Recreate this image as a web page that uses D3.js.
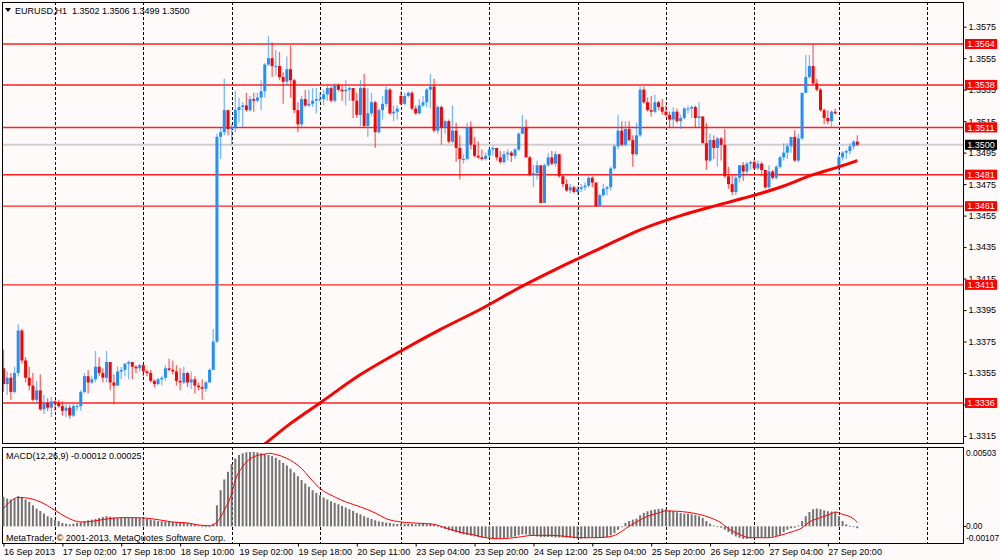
<!DOCTYPE html>
<html>
<head>
<meta charset="utf-8">
<script src="https://cdn.jsdelivr.net/npm/d3@7"></script>
<style>
  body { margin: 0; background: #fffafa; }
  svg { display: block; }
</style>
</head>
<body>
<div class="chart"></div>
<script>
// EURUSD H1 candles, 16 Sep 2013 10:00 .. 30 Sep 2013 05:00 (233 bars)
const opens = [
  1.3358,1.3348,1.3352,1.3343,1.3355,1.3382,1.3363,1.3352,1.3347,1.3338,
  1.3344,1.3332,1.3336,1.3333,1.3337,1.3336,1.3334,1.3331,1.3333,1.3328,
  1.3334,1.3334,1.3343,1.3353,1.3349,1.3351,1.3359,1.3355,1.3352,1.3362,
  1.3349,1.3347,1.3356,1.3357,1.3361,1.3362,1.3359,1.3358,1.3360,1.3356,
  1.3355,1.3350,1.3348,1.3351,1.3352,1.3358,1.3357,1.3356,1.3350,1.3349,
  1.3355,1.3349,1.3351,1.3347,1.3346,1.3345,1.3349,1.3357,1.3375,1.3505,
  1.3508,1.3522,1.3510,1.3511,1.3522,1.3524,1.3525,1.3522,1.3529,1.3528,
  1.3530,1.3534,1.3551,1.3555,1.3550,1.3550,1.3543,1.3540,1.3548,1.3541,
  1.3522,1.3513,1.3529,1.3525,1.3526,1.3528,1.3529,1.3529,1.3532,1.3536,
  1.3528,1.3538,1.3535,1.3534,1.3535,1.3536,1.3528,1.3519,1.3536,1.3512,
  1.3520,1.3527,1.3508,1.3522,1.3526,1.3535,1.3520,1.3521,1.3531,1.3526,
  1.3531,1.3533,1.3523,1.3520,1.3525,1.3527,1.3535,1.3537,1.3509,1.3524,
  1.3511,1.3515,1.3502,1.3509,1.3498,1.3491,1.3491,1.3511,1.3500,1.3493,
  1.3492,1.3491,1.3493,1.3497,1.3498,1.3492,1.3489,1.3494,1.3495,1.3493,
  1.3497,1.3507,1.3511,1.3492,1.3481,1.3482,1.3487,1.3463,1.3487,1.3492,
  1.3488,1.3494,1.3480,1.3475,1.3471,1.3473,1.3470,1.3472,1.3473,1.3474,
  1.3479,1.3476,1.3461,1.3468,1.3472,1.3473,1.3485,1.3499,1.3509,1.3500,
  1.3510,1.3503,1.3494,1.3506,1.3535,1.3527,1.3522,1.3521,1.3527,1.3524,
  1.3521,1.3519,1.3516,1.3521,1.3515,1.3517,1.3523,1.3523,1.3524,1.3517,
  1.3518,1.3501,1.3490,1.3503,1.3498,1.3504,1.3500,1.3480,1.3475,1.3470,
  1.3479,1.3487,1.3483,1.3488,1.3489,1.3485,1.3488,1.3484,1.3473,1.3483,
  1.3479,1.3486,1.3492,1.3495,1.3499,1.3505,1.3490,1.3504,1.3533,1.3543,
  1.3550,1.3539,1.3535,1.3522,1.3517,1.3515,1.3521,1.3486,1.3492,1.3495,
  1.3496,1.3499,1.3502
];
const highs = [
  1.3370,1.3356,1.3355,1.3359,1.3386,1.3383,1.3365,1.3359,1.3355,1.3350,
  1.3354,1.3341,1.3339,1.3340,1.3338,1.3338,1.3337,1.3336,1.3335,1.3336,
  1.3336,1.3344,1.3355,1.3357,1.3353,1.3369,1.3365,1.3358,1.3369,1.3362,
  1.3354,1.3359,1.3359,1.3361,1.3363,1.3362,1.3360,1.3361,1.3361,1.3357,
  1.3357,1.3351,1.3352,1.3353,1.3360,1.3364,1.3363,1.3360,1.3358,1.3359,
  1.3356,1.3356,1.3353,1.3349,1.3351,1.3350,1.3358,1.3383,1.3507,1.3511,
  1.3542,1.3522,1.3513,1.3534,1.3530,1.3527,1.3533,1.3531,1.3533,1.3533,
  1.3541,1.3552,1.3569,1.3565,1.3560,1.3559,1.3546,1.3556,1.3563,1.3542,
  1.3527,1.3531,1.3535,1.3535,1.3536,1.3536,1.3533,1.3535,1.3538,1.3537,
  1.3539,1.3539,1.3538,1.3541,1.3537,1.3536,1.3533,1.3541,1.3545,1.3536,
  1.3533,1.3528,1.3523,1.3531,1.3537,1.3536,1.3525,1.3525,1.3534,1.3533,
  1.3534,1.3534,1.3525,1.3529,1.3531,1.3536,1.3545,1.3542,1.3525,1.3525,
  1.3516,1.3516,1.3525,1.3514,1.3506,1.3494,1.3514,1.3515,1.3505,1.3502,
  1.3497,1.3495,1.3498,1.3499,1.3498,1.3496,1.3496,1.3497,1.3496,1.3498,
  1.3508,1.3519,1.3516,1.3493,1.3487,1.3490,1.3487,1.3488,1.3495,1.3496,
  1.3496,1.3494,1.3481,1.3478,1.3475,1.3474,1.3474,1.3475,1.3476,1.3480,
  1.3480,1.3476,1.3469,1.3475,1.3474,1.3486,1.3500,1.3519,1.3515,1.3515,
  1.3515,1.3506,1.3514,1.3537,1.3537,1.3530,1.3531,1.3532,1.3528,1.3529,
  1.3525,1.3521,1.3524,1.3523,1.3519,1.3524,1.3525,1.3525,1.3525,1.3527,
  1.3518,1.3514,1.3507,1.3506,1.3505,1.3505,1.3510,1.3486,1.3481,1.3481,
  1.3487,1.3489,1.3489,1.3490,1.3491,1.3490,1.3489,1.3484,1.3487,1.3484,
  1.3487,1.3493,1.3501,1.3501,1.3505,1.3509,1.3507,1.3533,1.3557,1.3557,
  1.3564,1.3542,1.3536,1.3523,1.3522,1.3522,1.3523,1.3494,1.3496,1.3497,
  1.3501,1.3503,1.3506
];
const lows = [
  1.3343,1.3341,1.3338,1.3342,1.3353,1.3361,1.3349,1.3344,1.3337,1.3336,
  1.3331,1.3329,1.3331,1.3327,1.3331,1.3333,1.3328,1.3327,1.3326,1.3327,
  1.3331,1.3331,1.3342,1.3342,1.3348,1.3349,1.3353,1.3349,1.3349,1.3344,
  1.3335,1.3347,1.3351,1.3353,1.3351,1.3351,1.3355,1.3356,1.3353,1.3353,
  1.3349,1.3346,1.3347,1.3347,1.3350,1.3356,1.3354,1.3347,1.3344,1.3348,
  1.3346,1.3345,1.3342,1.3344,1.3338,1.3343,1.3349,1.3357,1.3374,1.3491,
  1.3506,1.3506,1.3500,1.3508,1.3514,1.3511,1.3521,1.3521,1.3521,1.3527,
  1.3522,1.3530,1.3550,1.3543,1.3544,1.3541,1.3526,1.3538,1.3530,1.3520,
  1.3508,1.3511,1.3524,1.3524,1.3524,1.3520,1.3527,1.3525,1.3528,1.3527,
  1.3527,1.3534,1.3528,1.3525,1.3528,1.3517,1.3517,1.3512,1.3511,1.3505,
  1.3518,1.3498,1.3507,1.3516,1.3524,1.3519,1.3515,1.3516,1.3525,1.3525,
  1.3530,1.3522,1.3519,1.3519,1.3524,1.3524,1.3523,1.3508,1.3507,1.3500,
  1.3507,1.3501,1.3501,1.3489,1.3478,1.3488,1.3490,1.3497,1.3492,1.3491,
  1.3490,1.3490,1.3492,1.3493,1.3490,1.3488,1.3488,1.3490,1.3489,1.3491,
  1.3496,1.3507,1.3492,1.3480,1.3473,1.3478,1.3463,1.3463,1.3486,1.3487,
  1.3486,1.3479,1.3473,1.3470,1.3469,1.3469,1.3468,1.3470,1.3471,1.3473,
  1.3473,1.3461,1.3461,1.3467,1.3468,1.3471,1.3484,1.3497,1.3499,1.3499,
  1.3502,1.3486,1.3493,1.3505,1.3526,1.3521,1.3518,1.3520,1.3522,1.3519,
  1.3518,1.3511,1.3511,1.3514,1.3510,1.3516,1.3520,1.3517,1.3511,1.3511,
  1.3501,1.3484,1.3489,1.3491,1.3486,1.3490,1.3479,1.3472,1.3468,1.3468,
  1.3476,1.3477,1.3480,1.3484,1.3484,1.3484,1.3480,1.3472,1.3472,1.3478,
  1.3478,1.3485,1.3490,1.3491,1.3495,1.3489,1.3489,1.3503,1.3533,1.3542,
  1.3538,1.3534,1.3521,1.3513,1.3513,1.3511,1.3519,1.3480,1.3490,1.3491,
  1.3494,1.3497,1.3499
];
const closes = [
  1.3348,1.3352,1.3343,1.3355,1.3382,1.3363,1.3352,1.3347,1.3338,1.3344,
  1.3332,1.3336,1.3333,1.3337,1.3336,1.3334,1.3331,1.3333,1.3328,1.3334,
  1.3334,1.3343,1.3353,1.3349,1.3351,1.3359,1.3355,1.3352,1.3362,1.3349,
  1.3347,1.3356,1.3357,1.3361,1.3362,1.3359,1.3358,1.3360,1.3356,1.3355,
  1.3350,1.3348,1.3351,1.3352,1.3358,1.3357,1.3356,1.3350,1.3349,1.3355,
  1.3349,1.3351,1.3347,1.3346,1.3345,1.3349,1.3357,1.3375,1.3505,1.3508,
  1.3522,1.3510,1.3511,1.3522,1.3524,1.3525,1.3522,1.3529,1.3528,1.3530,
  1.3534,1.3551,1.3555,1.3550,1.3550,1.3543,1.3540,1.3548,1.3541,1.3522,
  1.3513,1.3529,1.3525,1.3526,1.3528,1.3529,1.3529,1.3532,1.3536,1.3528,
  1.3538,1.3535,1.3534,1.3535,1.3536,1.3528,1.3519,1.3536,1.3512,1.3520,
  1.3527,1.3508,1.3522,1.3526,1.3535,1.3520,1.3521,1.3523,1.3526,1.3531,
  1.3533,1.3523,1.3520,1.3525,1.3527,1.3535,1.3537,1.3509,1.3524,1.3511,
  1.3515,1.3502,1.3509,1.3498,1.3491,1.3491,1.3511,1.3500,1.3493,1.3492,
  1.3491,1.3493,1.3497,1.3498,1.3492,1.3489,1.3494,1.3495,1.3493,1.3497,
  1.3507,1.3511,1.3492,1.3481,1.3482,1.3487,1.3463,1.3487,1.3492,1.3488,
  1.3494,1.3480,1.3475,1.3471,1.3473,1.3470,1.3472,1.3473,1.3474,1.3479,
  1.3476,1.3461,1.3468,1.3472,1.3473,1.3485,1.3499,1.3509,1.3500,1.3510,
  1.3503,1.3494,1.3506,1.3535,1.3527,1.3522,1.3521,1.3527,1.3524,1.3521,
  1.3519,1.3516,1.3521,1.3515,1.3517,1.3523,1.3523,1.3524,1.3517,1.3518,
  1.3501,1.3490,1.3503,1.3498,1.3504,1.3500,1.3480,1.3475,1.3470,1.3479,
  1.3487,1.3483,1.3488,1.3489,1.3485,1.3488,1.3484,1.3473,1.3483,1.3479,
  1.3486,1.3492,1.3495,1.3499,1.3505,1.3490,1.3504,1.3533,1.3543,1.3550,
  1.3539,1.3535,1.3522,1.3517,1.3515,1.3521,1.3520,1.3492,1.3495,1.3496,
  1.3499,1.3502,1.3500
];

// moving average (red thick line), read at some bars
const maIndex = [66, 71, 78, 86, 97, 108, 119, 130, 140, 151, 162, 173, 184, 193, 201, 211, 220, 227, 232];
const maValue = [1.3301, 1.3310, 1.3323, 1.3336, 1.3354, 1.3369, 1.3383, 1.3396, 1.3409, 1.3422,
                 1.3434, 1.3446, 1.3455, 1.3461, 1.3466, 1.3473, 1.3481, 1.3486, 1.3490];

// MACD(12,26,9) histogram, one value per bar
const macdHist = [
  0.00189,0.00178,0.00172,0.00178,0.00194,0.00189,0.00172,0.00157,0.00135,0.00114,
  0.00099,0.00082,0.00065,0.00056,0.00043,0.00034,0.00022,0.00017,0.00013,0.00017,
  0.00022,0.00026,0.00032,0.00039,0.00043,0.00047,0.00054,0.00060,0.00065,0.00062,
  0.00056,0.00054,0.00054,0.00054,0.00054,0.00054,0.00054,0.00054,0.00052,0.00047,
  0.00043,0.00039,0.00034,0.00032,0.00032,0.00030,0.00028,0.00026,0.00026,0.00024,
  0.00022,0.00017,0.00013,0.00006,0.00000,-0.00004,0.00000,0.00017,0.00135,0.00232,
  0.00301,0.00350,0.00400,0.00436,0.00458,0.00469,0.00475,0.00477,0.00477,0.00475,
  0.00469,0.00464,0.00458,0.00451,0.00440,0.00426,0.00408,0.00391,0.00370,0.00346,
  0.00322,0.00297,0.00275,0.00254,0.00232,0.00215,0.00200,0.00185,0.00172,0.00161,
  0.00151,0.00142,0.00131,0.00120,0.00110,0.00099,0.00086,0.00077,0.00065,0.00056,
  0.00047,0.00039,0.00032,0.00028,0.00024,0.00022,0.00017,0.00015,0.00017,0.00017,
  0.00017,0.00015,0.00013,0.00015,0.00017,0.00017,0.00019,0.00013,0.00000,-0.00009,
  -0.00017,-0.00026,-0.00032,-0.00039,-0.00045,-0.00052,-0.00056,-0.00060,-0.00065,-0.00069,
  -0.00073,-0.00075,-0.00077,-0.00080,-0.00080,-0.00080,-0.00075,-0.00073,-0.00069,-0.00065,
  -0.00058,-0.00052,-0.00052,-0.00056,-0.00060,-0.00065,-0.00069,-0.00069,-0.00069,-0.00069,
  -0.00071,-0.00071,-0.00071,-0.00073,-0.00075,-0.00077,-0.00080,-0.00080,-0.00077,-0.00075,
  -0.00073,-0.00073,-0.00073,-0.00073,-0.00069,-0.00058,-0.00043,-0.00022,0.00000,0.00022,
  0.00034,0.00043,0.00049,0.00071,0.00086,0.00097,0.00103,0.00108,0.00112,0.00114,
  0.00110,0.00103,0.00097,0.00090,0.00086,0.00082,0.00080,0.00077,0.00073,0.00065,
  0.00054,0.00034,0.00017,0.00006,0.00000,-0.00009,-0.00022,-0.00037,-0.00052,-0.00065,
  -0.00073,-0.00080,-0.00080,-0.00077,-0.00075,-0.00073,-0.00073,-0.00071,-0.00069,-0.00067,
  -0.00062,-0.00054,-0.00037,-0.00022,-0.00013,-0.00009,0.00006,0.00034,0.00065,0.00092,
  0.00110,0.00114,0.00110,0.00103,0.00097,0.00095,0.00092,0.00065,0.00034,0.00013,
  0.00004,-0.00004,-0.00012
];

// MACD signal line, read at some bars
const signalIndex = [0, 4, 6, 10, 14, 17, 21, 24, 28, 32, 35, 39, 43, 46, 50, 53, 56, 58, 60, 62,
  63, 65, 68, 71, 72, 74, 77, 79, 81, 83, 86, 90, 93, 97, 101, 104, 108, 111, 115, 117,
  120, 124, 128, 131, 135, 140, 144, 149, 153, 157, 160, 164, 167, 169, 172, 175, 178, 180, 183, 186,
  189, 192, 195, 197, 200, 203, 206, 208, 211, 214, 217, 219, 222, 225, 226, 228, 231, 232];
const signalValue = [0.00114, 0.00185, 0.00183, 0.00157, 0.00103, 0.00060, 0.00028, 0.00032, 0.00047, 0.00056,
  0.00056, 0.00052, 0.00039, 0.00028, 0.00022, 0.00009, 0.00004, 0.00028, 0.00103, 0.00211,
  0.00297, 0.00383, 0.00447, 0.00464, 0.00469, 0.00462, 0.00436, 0.00409, 0.00372, 0.00318,
  0.00243, 0.00189, 0.00157, 0.00125, 0.00086, 0.00049, 0.00028, 0.00022, 0.00017, 0.00013,
  -0.00009, -0.00037, -0.00056, -0.00073, -0.00080, -0.00069, -0.00058, -0.00058, -0.00065, -0.00073,
  -0.00073, -0.00069, -0.00047, -0.00015, 0.00028, 0.00065, 0.00086, 0.00099, 0.00097, 0.00090,
  0.00077, 0.00056, 0.00022, -0.00015, -0.00052, -0.00073, -0.00073, -0.00073, -0.00058, -0.00037,
  -0.00009, 0.00028, 0.00056, 0.00082, 0.00092, 0.00077, 0.00049, 0.00024];

// axes / levels
const priceTicks = [1.3575, 1.3555, 1.3535, 1.3515, 1.3495, 1.3475, 1.3455, 1.3435, 1.3415, 1.3395, 1.3375, 1.3355, 1.3335, 1.3315];
const levelLines = [1.3564, 1.3538, 1.3511, 1.3481, 1.3461, 1.3411, 1.3336];
const lastPrice = 1.3500;
const daySeparators = [14, 38, 62, 86, 108, 132, 156, 180, 204, 227, 251];
const xTickIndex = [0, 16, 32, 48, 64, 80, 96, 112, 128, 144, 160, 176, 192, 208, 224];
const xTickLabels = ["16 Sep 2013", "17 Sep 02:00", "17 Sep 18:00", "18 Sep 10:00", "19 Sep 02:00",
  "19 Sep 18:00", "20 Sep 11:00", "23 Sep 04:00", "23 Sep 20:00", "24 Sep 12:00", "25 Sep 04:00",
  "25 Sep 20:00", "26 Sep 12:00", "27 Sep 04:00", "27 Sep 20:00"];
const macdTicks = [0.00503, 0.00, -0.00107];
const macdTickLabels = ["0.00503", "0.00", "-0.00107"];

// Layout
const width = 1000;
const height = 560;
const left = 2, right = 963;
const mainTop = 2, mainBottom = 443;
const macdTop = 447, macdBottom = 543;
const font = "'Liberation Sans', Arial, sans-serif";
const fontSize = 9;
const bullColor = "#1e90ff";
const bearColor = "#ff0000";

const svg = d3.select(".chart")
              .append("svg")
              .attr("width", width)
              .attr("height", height)
              .style("font-family", font)
              .style("font-size", fontSize + "px");

svg.append("rect").attr("width", width).attr("height", height).attr("fill", "#fffafa");

const x = d3.scaleLinear().domain([0, 251]).range([3.48, 927.2]);
const y = d3.scaleLinear().domain([1.3315, 1.3575]).range([436, 26.7]);
const ym = d3.scaleLinear().domain([-0.00107, 0.00503]).range([macdBottom, macdTop + 1]);

svg.append("clipPath").attr("id", "mainClip")
   .append("rect").attr("x", left).attr("y", mainTop).attr("width", right - left).attr("height", mainBottom - mainTop);

// day separators, both panels
const grid = svg.append("g")
                .attr("stroke", "#000")
                .attr("stroke-dasharray", "3,2")
                .attr("stroke-width", 1);
grid.selectAll(".vmain")
    .data(daySeparators)
    .enter()
    .append("line")
    .attr("x1", function(d) { return Math.round(x(d)) + 0.5; })
    .attr("x2", function(d) { return Math.round(x(d)) + 0.5; })
    .attr("y1", mainTop)
    .attr("y2", mainBottom);
grid.selectAll(".vmacd")
    .data(daySeparators)
    .enter()
    .append("line")
    .attr("x1", function(d) { return Math.round(x(d)) + 0.5; })
    .attr("x2", function(d) { return Math.round(x(d)) + 0.5; })
    .attr("y1", macdTop)
    .attr("y2", macdBottom);

// bid line + horizontal levels
svg.append("line")
   .attr("x1", left).attr("x2", right)
   .attr("y1", y(lastPrice)).attr("y2", y(lastPrice))
   .attr("stroke", "#cfcfcf").attr("stroke-width", 2);

svg.append("g").selectAll("line")
   .data(levelLines)
   .enter()
   .append("line")
   .attr("x1", left).attr("x2", right)
   .attr("y1", function(d) { return y(d); })
   .attr("y2", function(d) { return y(d); })
   .attr("stroke", "#ff2020")
   .attr("stroke-width", 1.4);

// candles
const bars = d3.range(closes.length);
const plot = svg.append("g").attr("clip-path", "url(#mainClip)");
const candleColor = function(i) { return closes[i] >= opens[i] ? bullColor : bearColor; };

plot.selectAll(".wick")
    .data(bars)
    .enter()
    .append("line")
    .attr("class", "wick")
    .attr("x1", function(i) { return x(i); })
    .attr("x2", function(i) { return x(i); })
    .attr("y1", function(i) { return y(highs[i]); })
    .attr("y2", function(i) { return y(lows[i]); })
    .attr("stroke", candleColor)
    .attr("stroke-opacity", 0.6)
    .attr("stroke-width", 1.3);

plot.selectAll(".body")
    .data(bars)
    .enter()
    .append("rect")
    .attr("class", "body")
    .attr("x", function(i) { return x(i) - 1.5; })
    .attr("width", 3)
    .attr("y", function(i) { return y(Math.max(opens[i], closes[i])); })
    .attr("height", function(i) { return Math.max(1, Math.abs(y(opens[i]) - y(closes[i]))); })
    .attr("fill", candleColor);

// moving average
const maLine = d3.line()
                 .x(function(d) { return x(d); })
                 .y(function(d, k) { return y(maValue[k]); })
                 .curve(d3.curveMonotoneX);
plot.append("path")
    .datum(maIndex)
    .attr("d", maLine)
    .attr("fill", "none")
    .attr("stroke", "#ff0000")
    .attr("stroke-width", 3);

// panel borders
svg.append("rect")
   .attr("x", left + 0.5).attr("y", mainTop + 0.5)
   .attr("width", right - left).attr("height", mainBottom - mainTop)
   .attr("fill", "none").attr("stroke", "#000");
svg.append("rect")
   .attr("x", left + 0.5).attr("y", macdTop + 0.5)
   .attr("width", right - left).attr("height", macdBottom - macdTop)
   .attr("fill", "none").attr("stroke", "#000");

// price axis
const yAxis = svg.append("g")
                 .attr("transform", "translate(" + (right + 0.5) + ",0)")
                 .call(d3.axisRight(y).tickValues(priceTicks).tickSize(3).tickPadding(2).tickFormat(d3.format(".4f")));
yAxis.select(".domain").remove();
yAxis.selectAll("text").attr("font-family", font).attr("font-size", fontSize).attr("fill", "#000");

// level labels (drawn over the scale, as in the terminal)
const levelTags = svg.append("g").selectAll("g")
                     .data(levelLines)
                     .enter()
                     .append("g")
                     .attr("transform", function(d) { return "translate(965," + y(d) + ")"; });
levelTags.append("rect")
         .attr("x", 0).attr("y", -5).attr("width", 32).attr("height", 10)
         .attr("fill", "#ff0000");
levelTags.append("text")
         .attr("x", 16).attr("dy", "0.34em")
         .attr("text-anchor", "middle")
         .attr("fill", "#fff")
         .text(function(d) { return d.toFixed(4); });

const bidTag = svg.append("g").attr("transform", "translate(965," + y(lastPrice) + ")");
bidTag.append("rect").attr("x", 0).attr("y", -5).attr("width", 32).attr("height", 10).attr("fill", "#000");
bidTag.append("text").attr("x", 16).attr("dy", "0.34em").attr("text-anchor", "middle")
      .attr("fill", "#fff").text(lastPrice.toFixed(4));

// MACD histogram + signal
svg.append("g").selectAll("rect")
   .data(bars)
   .enter()
   .append("rect")
   .attr("x", function(i) { return x(i) - 1; })
   .attr("width", 2)
   .attr("y", function(i) { return Math.min(ym(macdHist[i]), ym(0)); })
   .attr("height", function(i) { return Math.max(0.8, Math.abs(ym(macdHist[i]) - ym(0))); })
   .attr("fill", "#737373");

const sigLine = d3.line()
                  .x(function(d) { return x(d); })
                  .y(function(d, k) { return ym(signalValue[k]); })
                  .curve(d3.curveMonotoneX);
svg.append("path")
   .datum(signalIndex)
   .attr("d", sigLine)
   .attr("fill", "none")
   .attr("stroke", "#ff0000")
   .attr("stroke-width", 1);

// MACD scale labels
svg.append("g").selectAll("text")
   .data(macdTicks)
   .enter()
   .append("text")
   .attr("x", 966)
   .attr("y", function(d) { return ym(d); })
   .attr("dy", function(d, k) { return k === 0 ? "1em" : (k === 2 ? "-0.25em" : "0.34em"); })
   .attr("font-size", 8.4)
   .attr("fill", "#000")
   .text(function(d, k) { return macdTickLabels[k]; });
svg.append("line")
   .attr("x1", right).attr("x2", right + 3)
   .attr("y1", Math.round(ym(0)) + 0.5).attr("y2", Math.round(ym(0)) + 0.5)
   .attr("stroke", "#000");

// time axis
const xAxis = svg.append("g")
                 .attr("transform", "translate(0," + (macdBottom + 0.5) + ")")
                 .call(d3.axisBottom(x).tickValues(xTickIndex).tickSize(3).tickPadding(2)
                         .tickFormat(function(d, k) { return xTickLabels[k]; }));
xAxis.select(".domain").remove();
xAxis.selectAll("text")
     .attr("text-anchor", "start")
     .attr("x", 0)
     .attr("font-family", font)
     .attr("font-size", fontSize)
     .attr("fill", "#000");

// captions
svg.append("path")
   .attr("d", "M5,8 L11,8 L8,12 Z")
   .attr("fill", "#000");
svg.append("text")
   .attr("x", 15).attr("y", 13.5)
   .style("white-space", "pre")
   .attr("fill", "#000")
   .text("EURUSD,H1  1.3502 1.3506 1.3499 1.3500");
svg.append("text")
   .attr("x", 6).attr("y", 458.5)
   .attr("fill", "#000")
   .text("MACD(12,26,9) -0.00012 0.00025");
svg.append("text")
   .attr("x", 6).attr("y", 540.5)
   .attr("fill", "#000")
   .text("MetaTrader, \u00a9 2001-2013, MetaQuotes Software Corp.");
</script>
</body>
</html>
